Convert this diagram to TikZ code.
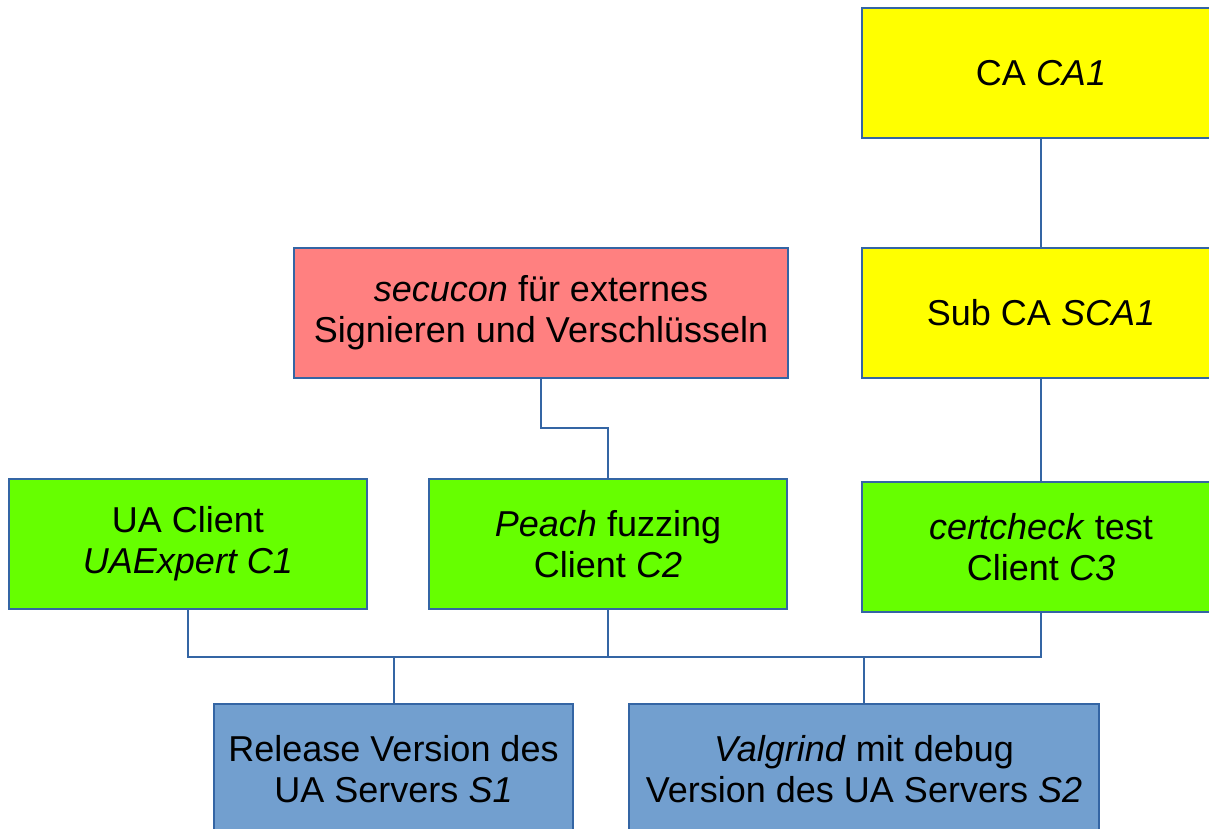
\documentclass[tikz,border=0pt]{standalone}
\usepackage{fontspec}
\setmainfont{Liberation Sans}
\definecolor{lineblue}{HTML}{3465A4}
\definecolor{boxyellow}{HTML}{FFFF00}
\definecolor{boxgreen}{HTML}{66FF00}
\definecolor{boxred}{HTML}{FF8080}
\definecolor{boxblue}{HTML}{729FCF}
\tikzset{
  box/.style={draw=lineblue, line width=2pt, rectangle, anchor=north west, inner sep=0pt,
    align=center, minimum height=130pt, font=\fontsize{36}{41}\selectfont},
  conn/.style={draw=lineblue, line width=2pt}
}
\begin{document}
\begin{tikzpicture}[x=1pt,y=-1pt]
\useasboundingbox (0,0) rectangle (1209,829);
\clip (0,0) rectangle (1209,829);
\fill[white] (0,0) rectangle (1209,829);
\node[box, fill=boxyellow, minimum width=358pt] (ca) at (861,7) {CA \textit{CA1}};
\node[box, fill=boxyellow, minimum width=358pt] (sca) at (861,247) {Sub CA \textit{SCA1}};
\node[box, fill=boxred, minimum width=494pt] (sec) at (293,247) {\textit{secucon} für externes\\Signieren und Verschlüsseln};
\node[box, fill=boxgreen, minimum width=358pt] (c1) at (8,478) {UA Client\\\textit{UAExpert C1}};
\node[box, fill=boxgreen, minimum width=358pt] (c2) at (428,478) {\textit{Peach} fuzzing\\Client \textit{C2}};
\node[box, fill=boxgreen, minimum width=358pt] (c3) at (861,481) {\textit{certcheck} test\\Client \textit{C3}};
\node[box, fill=boxblue, minimum width=359pt] (s1) at (213,703) {Release Version des\\UA Servers \textit{S1}};
\node[box, fill=boxblue, minimum width=470pt] (s2) at (628,703) {\textit{Valgrind} mit debug\\Version des UA Servers \textit{S2}};
\coordinate (mid) at (0,428);
\coordinate (bus) at (0,657);
\draw[conn] (ca.south) -- (sca.north);
\draw[conn] (sca.south) -- (c3.north);
\draw[conn] (sec.south) -- (sec.south |- mid) -- (c2.north |- mid) -- (c2.north);
\draw[conn] (c1.south) -- (c1.south |- bus) -- (c3.south |- bus) -- (c3.south);
\draw[conn] (c2.south) -- (c2.south |- bus);
\draw[conn] (s1.north) -- (s1.north |- bus);
\draw[conn] (s2.north) -- (s2.north |- bus);
\end{tikzpicture}
\end{document}
